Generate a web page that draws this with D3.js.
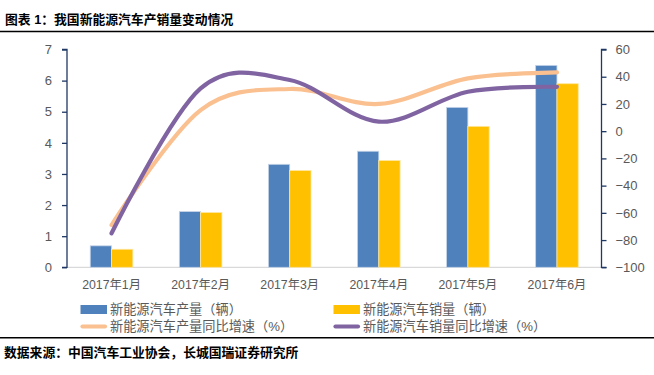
<!DOCTYPE html>
<html><head><meta charset="utf-8">
<script src="https://cdn.jsdelivr.net/npm/d3@7"></script>
<style>
body{margin:0;background:#fff;}
svg{display:block;}
text{font-family:"Liberation Sans","Noto Sans CJK SC",sans-serif;}
</style></head>
<body><svg id="c" width="654" height="375"></svg>
<script>
const categories = ["2017年1月","2017年2月","2017年3月","2017年4月","2017年5月","2017年6月"];
const production = [0.69, 1.79, 3.31, 3.73, 5.14, 6.49];
const sales = [0.58, 1.76, 3.11, 3.43, 4.53, 5.90];
const productionGrowth = [-69, 15.5, 31, 20, 38.8, 43.2];
const salesGrowth = [-75, 31.4, 37.6, 7, 29, 32.6];
const leftTicks = [0,1,2,3,4,5,6,7];
const rightTicks = [-100,-80,-60,-40,-20,0,20,40,60];
const legendLabels = ["新能源汽车产量（辆）","新能源汽车销量（辆）","新能源汽车产量同比增速（%）","新能源汽车销量同比增速（%）"];
const colors = {prod:"#4F81BD", sales:"#FFC000", prodG:"#FAC090", salesG:"#8064A2"};

const svg = d3.select("#c");
const L = 67, R = 601.5, T = 49.5, B = 267.3;

// title
svg.append("text").attr("x",5).attr("y",24).attr("font-size",12.8).attr("font-weight","bold")
  .attr("font-family","'Noto Sans CJK SC',sans-serif").attr("fill","#000").text("图表 1：我国新能源汽车产销量变动情况");
svg.append("line").attr("x1",0).attr("x2",654).attr("y1",31.5).attr("y2",31.5).attr("stroke","#000").attr("stroke-width",1.5);
svg.append("line").attr("x1",0).attr("x2",654).attr("y1",337.7).attr("y2",337.7).attr("stroke","#000").attr("stroke-width",1.5);
svg.append("text").attr("x",4).attr("y",357).attr("font-size",12.8).attr("font-weight","bold")
  .attr("font-family","'Noto Sans CJK SC',sans-serif").attr("fill","#000").text("数据来源：中国汽车工业协会，长城国瑞证券研究所");

const x = d3.scaleBand().domain(categories).range([L,R]).paddingInner(0).paddingOuter(0);
const yL = d3.scaleLinear().domain([0,7]).range([B,T]);
const yR = d3.scaleLinear().domain([-100,60]).range([B,T]);
const bw = 21.3;

// baseline
svg.append("line").attr("x1",L).attr("x2",R).attr("y1",B).attr("y2",B).attr("stroke","#d9d9d9").attr("stroke-width",1.2);

// bars
const g = svg.append("g");
g.selectAll(".bp").data(production).join("rect")
  .attr("x",(d,i)=>x(categories[i])+x.bandwidth()/2-bw).attr("width",bw)
  .attr("y",d=>yL(d)).attr("height",d=>B-yL(d))
  .attr("fill",colors.prod).attr("stroke","#c6d4e8").attr("stroke-width",0.8);
g.selectAll(".bs").data(sales).join("rect")
  .attr("x",(d,i)=>x(categories[i])+x.bandwidth()/2).attr("width",bw)
  .attr("y",d=>yL(d)).attr("height",d=>B-yL(d))
  .attr("fill",colors.sales).attr("stroke","#ffe6a0").attr("stroke-width",0.8);

// lines
const line = d3.line().x((d,i)=>x(categories[i])+x.bandwidth()/2).y(d=>yR(d)).curve(d3.curveCardinal.tension(0));
svg.append("path").attr("d",line(productionGrowth)).attr("fill","none").attr("stroke",colors.prodG).attr("stroke-width",4.2).attr("stroke-linecap","round");
svg.append("path").attr("d",line(salesGrowth)).attr("fill","none").attr("stroke",colors.salesG).attr("stroke-width",4.2).attr("stroke-linecap","round");

// axes
const axisColor = "#203864";
const ax1 = svg.append("g").attr("transform",`translate(${L},0)`).call(d3.axisLeft(yL).tickValues(leftTicks).tickSize(5).tickPadding(10).tickFormat(d3.format("d")));
const ax2 = svg.append("g").attr("transform",`translate(${R},0)`).call(d3.axisRight(yR).tickValues(rightTicks).tickSize(5).tickPadding(9).tickFormat(d3.format("d")));
[ax1,ax2].forEach(a=>{
  a.select(".domain").attr("stroke",axisColor).attr("stroke-width",1.3).attr("d", a===ax1 ? `M-5,${T}H0V${B}H-5` : `M5,${T}H0V${B}H5`);
  a.selectAll(".tick line").attr("stroke",axisColor).attr("stroke-width",1.3);
  a.selectAll(".tick text").attr("fill","#595959").attr("font-size",13).attr("font-family","'Liberation Sans',sans-serif");
});

// x labels
svg.append("g").selectAll("text").data(categories).join("text")
  .attr("x",d=>x(d)+x.bandwidth()/2).attr("y",289).attr("text-anchor","middle")
  .attr("font-size",12.3).attr("fill","#595959").text(d=>d);

// legend
const legItems = [
  {t:legendLabels[0], c:colors.prod, type:"rect", x:80.5, y:309.5},
  {t:legendLabels[1], c:colors.sales, type:"rect", x:333.5, y:309.5},
  {t:legendLabels[2], c:colors.prodG, type:"line", x:80.5, y:326.5},
  {t:legendLabels[3], c:colors.salesG, type:"line", x:333.5, y:326.5}
];
const lg = svg.append("g");
legItems.forEach(it=>{
  if(it.type==="rect") lg.append("rect").attr("x",it.x).attr("y",it.y-4.5).attr("width",26.5).attr("height",9).attr("fill",it.c);
  else lg.append("line").attr("x1",it.x+2).attr("x2",it.x+24.5).attr("y1",it.y).attr("y2",it.y).attr("stroke",it.c).attr("stroke-width",4.2).attr("stroke-linecap","round");
  lg.append("text").attr("x",it.x+29.5).attr("y",it.y+4.8).attr("font-size",13.2).attr("fill","#595959")
    .attr("font-family","'Noto Sans CJK SC',sans-serif").text(it.t);
});
</script></body></html>
